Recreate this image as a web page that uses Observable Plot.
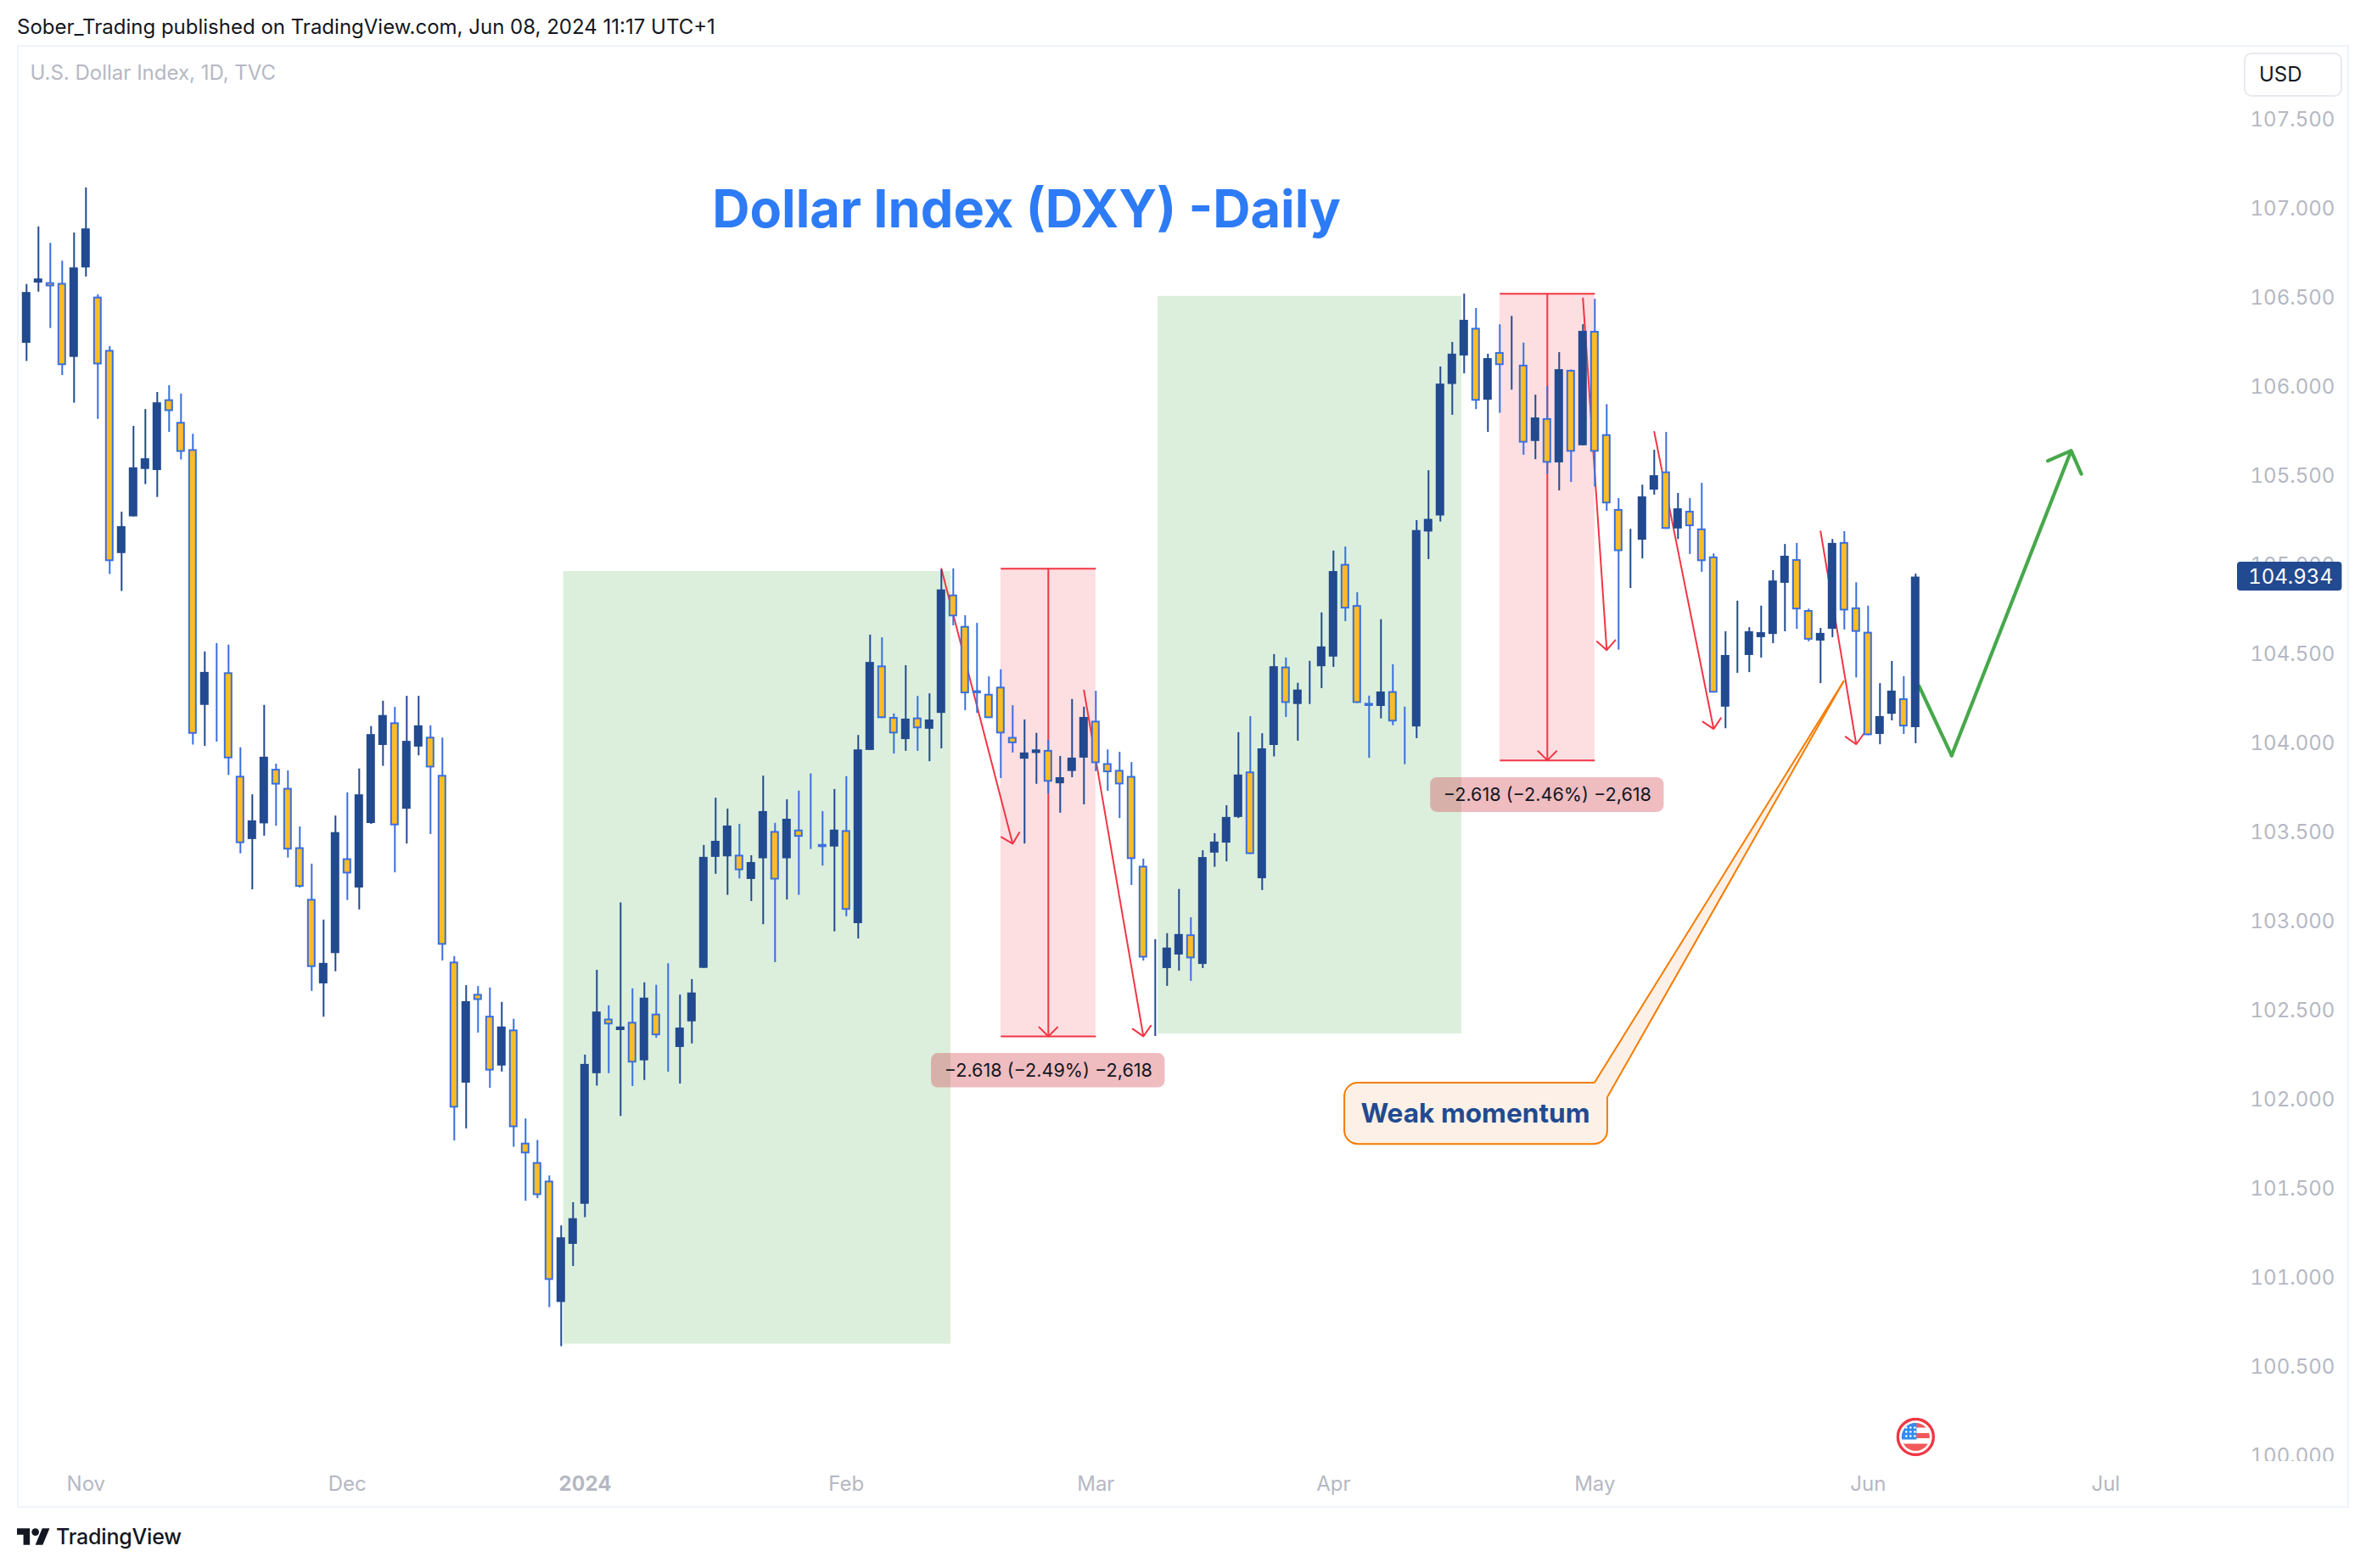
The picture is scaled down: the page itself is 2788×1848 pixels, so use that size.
<!DOCTYPE html>
<html>
<head>
<meta charset="utf-8">
<style>
html,body{margin:0;padding:0;background:#fff;width:2788px;height:1848px;overflow:hidden;font-family:Inter,"Noto Sans",sans-serif;color:#131722}
#page{position:relative;width:2788px;height:1848px}
#head{position:absolute;left:20px;top:14px;font-size:24px;line-height:36px;white-space:nowrap}
#frame{position:absolute;left:20px;top:53px;width:2748px;height:1724px;box-sizing:border-box;border:2px solid #F0F3FA;pointer-events:none}
#chart{position:absolute;left:0;top:53px}
#foot{position:absolute;left:20px;top:1793px;display:flex;align-items:center;height:36px}
#foot span{font-size:25px;font-weight:500;margin-left:7px;letter-spacing:-.2px}
#usd{position:absolute;left:2644px;top:62px;width:116px;height:52px;box-sizing:border-box;border:2px solid #E8EAF0;border-radius:9px;background:#fff;font-size:24px;line-height:48px;padding-left:16px}
</style>
<script src="https://cdn.jsdelivr.net/npm/d3@7"></script>
<script src="https://cdn.jsdelivr.net/npm/@observablehq/plot@0.6"></script>
</head>
<body>
<div id="page">
  <div id="head">Sober_Trading published on TradingView.com, Jun 08, 2024 11:17 UTC+1</div>
  <div id="chart"></div>
  <div id="frame"></div>
  <div id="usd">USD</div>
  <div id="foot">
    <svg width="39" height="20" viewBox="0 4 36 18"><path fill="#131722" d="M14 22H7V11H0V4h14v18zM28 22h-8l7.5-18h8L28 22z"/><circle fill="#131722" cx="20" cy="8" r="4"/></svg>
    <span>TradingView</span>
  </div>
</div>
<script>
// Daily candles, U.S. Dollar Index
const opens = [106.275,
106.246,106.584,106.586,106.582,106.167,106.669,106.505,106.206,105.066,105.272,105.538,105.532,105.929,105.802,105.649,
104.214,104.364,104.397,103.816,103.461,103.549,103.855,103.748,103.415,103.125,102.651,102.821,103.353,103.189,103.551,
103.989,104.116,103.631,103.980,104.035,103.821,102.773,102.094,102.592,102.469,102.190,102.392,101.757,101.648,101.544,
100.863,101.189,101.414,102.147,102.453,102.389,102.435,102.219,102.481,102.301,102.294,102.438,102.738,103.361,103.364,
103.373,103.237,103.353,103.506,103.353,103.514,103.471,103.433,103.419,103.511,102.989,103.961,104.435,104.146,104.022,
104.143,104.080,104.169,104.833,104.657,104.296,104.276,104.316,104.034,103.912,103.944,103.961,103.774,103.843,103.918,
104.125,103.887,103.849,103.815,103.311,102.739,102.737,102.813,102.926,102.760,103.385,103.441,103.585,103.840,103.241,
103.989,104.429,104.219,104.298,104.431,104.485,105.005,104.774,104.225,104.208,104.291,104.117,104.093,105.187,105.277,
106.015,106.175,106.330,105.927,106.194,106.121,106.123,105.695,105.823,105.575,106.094,105.671,106.313,105.733,105.313,
105.081,105.141,105.422,105.524,105.204,105.303,105.204,105.047,104.204,104.501,104.494,104.594,104.612,104.899,105.032,
104.746,104.575,104.641,105.128,104.761,104.624,104.051,104.164,104.251,104.089];
const closes = [105.613,
106.531,106.607,106.563,106.121,106.669,106.888,106.125,105.021,105.217,105.547,105.598,105.912,105.863,105.634,104.052,
104.399,104.362,103.914,103.438,103.566,103.923,103.767,103.402,103.193,102.743,102.766,103.500,103.268,103.712,104.050,
104.157,103.538,104.012,104.099,103.863,102.868,101.954,102.551,102.558,102.162,102.409,101.844,101.697,101.463,100.987,
101.226,101.333,102.199,102.493,102.421,102.409,102.207,102.571,102.360,102.299,102.403,102.600,103.361,103.451,103.537,
103.286,103.332,103.618,103.234,103.575,103.474,103.462,103.416,103.514,103.064,103.964,104.455,104.140,104.054,104.137,
104.083,104.132,104.862,104.711,104.279,104.279,104.140,104.054,103.999,103.947,103.964,103.783,103.808,103.918,104.146,
103.887,103.836,103.768,103.349,102.796,102.741,102.852,102.928,102.792,103.360,103.447,103.585,103.823,103.377,103.970,
104.431,104.225,104.300,104.300,104.542,104.965,104.755,104.225,104.208,104.289,104.121,104.115,105.195,105.258,106.017,
106.185,106.375,105.921,106.160,106.121,106.123,105.686,105.827,105.573,106.098,105.635,106.313,105.635,105.345,105.077,
105.083,105.384,105.503,105.202,105.317,105.217,105.021,104.283,104.494,104.503,104.627,104.622,104.912,105.051,104.750,
104.580,104.618,105.123,104.744,104.624,104.044,104.151,104.294,104.093,104.934];
const highs = [106.275,
106.576,106.899,106.807,106.707,106.865,107.118,106.518,106.227,105.298,105.780,105.874,105.970,106.008,105.961,105.736,
104.514,104.561,104.552,103.976,103.712,104.214,103.884,103.846,103.532,103.323,103.009,103.593,103.723,103.857,104.095,
104.237,104.203,104.265,104.265,104.099,104.031,102.804,102.641,102.636,102.628,102.547,102.452,101.893,101.772,101.573,
101.293,101.423,102.251,102.727,102.528,103.105,102.623,102.657,102.643,102.764,102.588,102.675,103.428,103.693,103.632,
103.546,103.370,103.817,103.552,103.684,103.733,103.829,103.618,103.742,103.814,104.045,104.608,104.593,104.166,104.437,
104.264,104.279,104.974,104.980,104.717,104.674,104.374,104.414,104.212,104.132,104.057,104.019,103.927,104.247,104.204,
104.293,103.964,103.951,103.893,103.351,102.899,102.933,103.181,103.022,103.398,103.494,103.651,104.061,104.151,104.055,
104.499,104.480,104.338,104.461,104.733,105.080,105.103,104.846,104.266,104.695,104.442,104.204,105.251,105.531,106.113,
106.251,106.522,106.441,106.185,106.350,106.397,106.247,105.955,106.004,106.194,106.096,106.350,106.493,105.902,105.375,
105.202,105.450,105.646,105.746,105.403,105.375,105.460,105.064,104.627,104.799,104.650,104.771,104.970,105.117,105.123,
104.754,104.646,105.145,105.189,104.902,104.771,104.336,104.460,104.375,104.951];
const lows = [105.613,
106.144,106.533,106.329,106.065,105.910,106.618,105.819,104.949,104.853,105.272,105.453,105.381,105.746,105.591,103.991,
103.984,104.008,103.821,103.381,103.179,103.480,103.536,103.357,103.189,102.609,102.464,102.719,103.119,103.066,103.546,
103.872,103.274,103.436,103.931,103.489,102.779,101.769,101.837,102.375,102.065,102.156,101.734,101.431,101.446,100.834,
100.615,101.065,101.339,102.077,102.147,101.907,102.075,102.109,102.346,102.155,102.089,102.314,102.738,103.266,103.148,
103.240,103.113,102.983,102.770,103.122,103.148,103.405,103.312,102.943,103.027,102.903,103.961,104.140,103.941,103.956,
103.956,103.898,103.970,104.660,104.184,104.169,104.140,103.803,103.947,103.436,103.771,103.716,103.609,103.808,103.656,
103.842,103.732,103.579,103.203,102.779,102.356,102.637,102.722,102.665,102.737,103.305,103.336,103.579,103.377,103.175,
103.925,104.146,104.013,104.219,104.308,104.427,104.684,104.225,103.917,104.138,104.100,103.881,104.027,105.032,105.243,
105.842,106.075,105.874,105.746,105.853,105.983,105.618,105.593,105.512,105.418,105.465,105.671,105.439,105.303,104.524,
104.870,105.036,105.394,105.202,105.145,105.061,104.961,104.283,104.083,104.394,104.398,104.479,104.560,104.627,104.641,
104.571,104.336,104.594,104.637,104.368,104.044,103.993,104.127,104.051,103.999];

// Axes
const priceTicks = [100,100.5,101,101.5,102,102.5,103,103.5,104,104.5,105,105.5,106,106.5,107,107.5];
const monthBars = [6,28,70,91,111,133,156,176];
const monthNames = ["Nov","Dec","Feb","Mar","Apr","May","Jun","Jul"];
const yearBars = [48];
const yearNames = ["2024"];
const lastPrice = 104.934;

// Drawings on the chart, in bar number and price
const greenZones = [
  {x1:46.2, x2:78.8, y1:100.629, y2:104.965},
  {x1:96.23, x2:121.8, y1:102.370, y2:106.509}
];
const redZones = [
  {x1:83, x2:91, y1:102.356, y2:104.981, mid:87},
  {x1:125, x2:133, y1:103.905, y2:106.524, mid:129}
];
const redArrows = [
  {x1:78, y1:104.98, x2:84, y2:103.437},
  {x1:90, y1:104.297, x2:95, y2:102.356},
  {x1:132, y1:106.498, x2:134, y2:104.524},
  {x1:138, y1:105.748, x2:143, y2:104.081},
  {x1:152, y1:105.19, x2:155, y2:103.995}
];
const measureLabels = [
  {x1:77.16, x2:96.83, y1:102.067, y2:102.260, x:87, y:102.164, text:"\u22122.618 (\u22122.49%) \u22122,618"},
  {x1:119.17, x2:138.83, y1:103.613, y2:103.808, x:129, y:103.71, text:"\u22122.618 (\u22122.46%) \u22122,618"}
];
const calloutBox = [{x1:111.95, x2:134.08, y1:101.75, y2:102.094}];
const calloutTailFill = [{x:132.95,y:102.094},{x:153.97,y:104.352},{x:134.08,y:102.019},{x:132.95,y:102.019}];
const calloutTailEdges = [
  {x1:132.95,y1:102.094,x2:153.97,y2:104.352},
  {x1:134.08,y1:102.019,x2:153.97,y2:104.352}
];
const greenPath = [{x:160.3,y:104.321},{x:163.03,y:103.932}];
const greenArrow = [{x1:163.03,y1:103.932,x2:173.09,y2:105.643}];
const titleLabel = [{x:85.16,y:106.991,text:"Dollar Index (DXY) -Daily"}];
const calloutLabel = [{x:122.94,y:101.922,text:"Weak momentum"}];
const symbolLabel = ["U.S. Dollar Index, 1D, TVC"];
const priceTag = [{x1:187.086,x2:195.9,y1:104.856,y2:105.018}];
const flagAt = [{x:160,y:100.108}];

const flagSvg = `<svg xmlns='http://www.w3.org/2000/svg' viewBox='0 0 46 46'><defs><clipPath id='c'><circle cx='23' cy='23' r='16.5'/></clipPath></defs><circle cx='23' cy='23' r='21' fill='#fff' stroke='#F23645' stroke-width='3.4'/><g clip-path='url(#c)'><rect x='5' y='5' width='36' height='36' fill='#fff'/><rect x='5' y='6' width='36' height='6' fill='#F4595A'/><rect x='5' y='18.5' width='36' height='6' fill='#F4595A'/><rect x='5' y='31' width='36' height='10' fill='#F4595A'/><rect x='5' y='5' width='19' height='21' fill='#2F8CF2'/><g fill='#fff'><circle cx='12' cy='12' r='1.3'/><circle cx='17' cy='12' r='1.3'/><circle cx='22' cy='12' r='1.3'/><circle cx='12' cy='17' r='1.3'/><circle cx='17' cy='17' r='1.3'/><circle cx='22' cy='17' r='1.3'/><circle cx='12' cy='22' r='1.3'/><circle cx='17' cy='22' r='1.3'/><circle cx='22' cy='22' r='1.3'/></g></g></svg>`;

const bars = opens.map((o,k)=>({k,o,c:closes[k],h:highs[k],l:lows[k]}));
const up = bars.filter(d=>d.c>=d.o);
const down = bars.filter(d=>d.c<d.o);

const NAVY="#224A90", LINE="#3A6FDD", GOLD="#FBBC25", RED="#F23645", GREY="#B5B8C3", GREEN="#47A84B";
const hw=0.286;

const plot = Plot.plot({
  width:2788, height:1724,
  marginLeft:21, marginRight:152, marginTop:2, marginBottom:55,
  x:{domain:[0.3,187.086], axis:null},
  y:{domain:[99.970,107.908], axis:null},
  style:{fontFamily:"Inter, 'Noto Sans', sans-serif", background:"transparent", overflow:"visible"},
  marks:[
    Plot.rect(greenZones,{x1:"x1",x2:"x2",y1:"y1",y2:"y2",fill:"#DCEFDD"}),
    Plot.rect(redZones,{x1:"x1",x2:"x2",y1:"y1",y2:"y2",fill:"#FDDFE1"}),
    Plot.link(redZones,{x1:"x1",x2:"x2",y1:"y1",y2:"y1",stroke:RED,strokeWidth:2}),
    Plot.link(redZones,{x1:"x1",x2:"x2",y1:"y2",y2:"y2",stroke:RED,strokeWidth:2}),
    Plot.arrow(redZones,{x1:"mid",x2:"mid",y1:"y2",y2:"y1",stroke:RED,strokeWidth:2,headAngle:90,headLength:11.5}),
    Plot.arrow(redArrows,{x1:"x1",y1:"y1",x2:"x2",y2:"y2",stroke:RED,strokeWidth:2,headAngle:90,headLength:11.5}),
    // callout
    Plot.rect(calloutBox,{x1:"x1",x2:"x2",y1:"y1",y2:"y2",fill:"#FDF1E7",stroke:"#F57C00",strokeWidth:2,rx:16}),
    Plot.line(calloutTailFill,{x:"x",y:"y",fill:"#FDF1E7",stroke:"none",curve:"linear"}),
    Plot.link(calloutTailEdges,{x1:"x1",y1:"y1",x2:"x2",y2:"y2",stroke:"#F57C00",strokeWidth:2}),
    // green projected path
    Plot.line(greenPath,{x:"x",y:"y",stroke:GREEN,strokeWidth:4.2,strokeLinecap:"round"}),
    Plot.arrow(greenArrow,{x1:"x1",y1:"y1",x2:"x2",y2:"y2",stroke:GREEN,strokeWidth:4.2,headAngle:90,headLength:10.7}),
    // candles
    Plot.ruleX(up,{x:"k",y1:"l",y2:"h",stroke:NAVY,strokeWidth:2,clip:"frame"}),
    Plot.ruleX(down,{x:"k",y1:"l",y2:"h",stroke:LINE,strokeWidth:2,clip:"frame"}),
    Plot.rect(up,{x1:d=>d.k-hw,x2:d=>d.k+hw,y1:"o",y2:"c",insetTop:1,insetBottom:1,fill:NAVY,stroke:NAVY,strokeWidth:2,clip:"frame"}),
    Plot.rect(down,{x1:d=>d.k-hw,x2:d=>d.k+hw,y1:"o",y2:"c",insetTop:1,insetBottom:1,fill:GOLD,stroke:LINE,strokeWidth:2,clip:"frame"}),
    // measure labels
    Plot.rect(measureLabels,{x1:"x1",x2:"x2",y1:"y1",y2:"y2",fill:"#CC2F3C",fillOpacity:0.32,rx:8}),
    Plot.text(measureLabels,{x:"x",y:"y",text:"text",fontSize:21.6,fill:"#131722"}),
    // texts
    Plot.text(titleLabel,{x:"x",y:"y",text:"text",fontSize:61.3,fontWeight:700,fill:"#2E7BF6"}),
    Plot.text(calloutLabel,{x:"x",y:"y",text:"text",fontSize:31.6,fontWeight:700,fill:NAVY}),
    Plot.text(symbolLabel,{frameAnchor:"top-left",dx:14,dy:21.5,text:d=>d,fontSize:24,fill:GREY}),
    Plot.image(flagAt,{x:"x",y:"y",width:46,height:46,src:"data:image/svg+xml,"+encodeURIComponent(flagSvg)}),
    // axes
    Plot.axisY({anchor:"right",ticks:priceTicks,tickSize:0,tickPadding:15,tickFormat:d=>d.toFixed(3),label:null,color:GREY,fontSize:24}),
    Plot.axisX({anchor:"bottom",ticks:monthBars,tickSize:0,tickPadding:17.5,tickFormat:d=>monthNames[monthBars.indexOf(d)],label:null,color:GREY,fontSize:24}),
    Plot.axisX({anchor:"bottom",ticks:yearBars,tickSize:0,tickPadding:17.5,tickFormat:d=>yearNames[yearBars.indexOf(d)],label:null,color:GREY,fontSize:24,fontWeight:700}),
    // the price scale ends here: labels are cut at the pane edge
    Plot.rect([{}],{x1:187.2,x2:195.9,y1:99.970,y2:99.90,fill:"#fff"}),
    // last price tag
    Plot.rect(priceTag,{x1:"x1",x2:"x2",y1:"y1",y2:"y2",fill:NAVY,rx:4}),
    Plot.text([lastPrice],{x:195.12,y:d=>d,text:d=>d.toFixed(3),textAnchor:"end",fontSize:24,fontVariant:"tabular-nums",fill:"#fff"})
  ]
});
document.getElementById("chart").appendChild(plot);
</script>
</body>
</html>
